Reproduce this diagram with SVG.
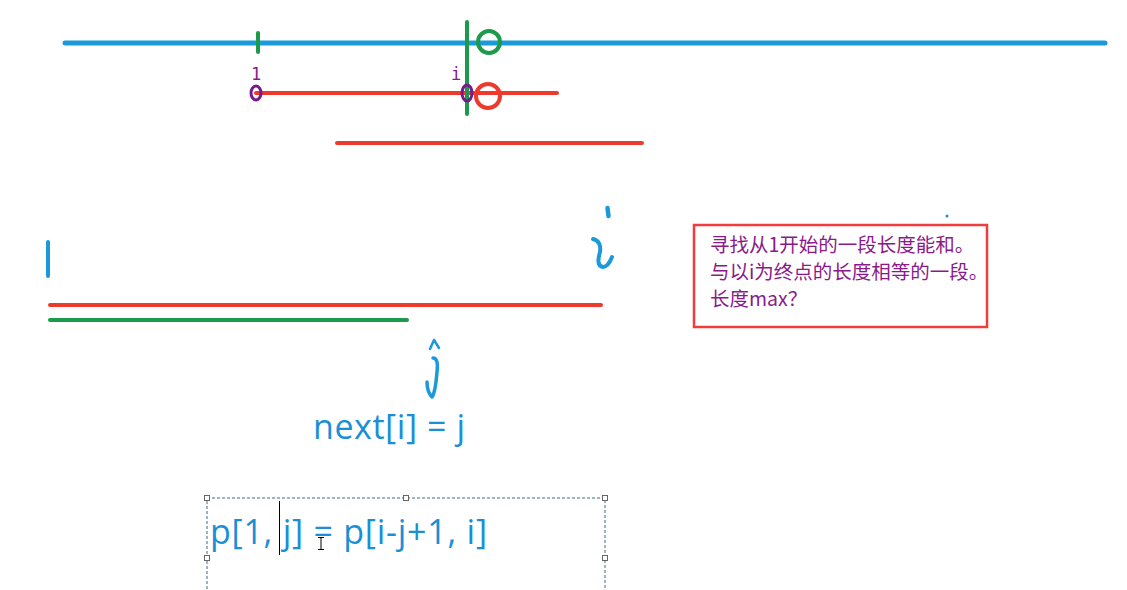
<svg xmlns="http://www.w3.org/2000/svg" width="1127" height="590" viewBox="0 0 1127 590">
<style>
.blue{stroke:#1a9ad8;fill:none;stroke-linecap:round;stroke-linejoin:round}
.red{stroke:#ee3a2c;fill:none;stroke-linecap:round}
.green{stroke:#1a9a4a;fill:none;stroke-linecap:round}
.purple{stroke:#7a1a8a;fill:none}
.lbl{font-family:"DejaVu Sans Mono","Noto Sans",monospace;font-size:17px;fill:#8a1a8a}
.big{font-family:"Open Sans","Noto Sans",sans-serif;font-size:34px;fill:#1a8fd6}
.note{font-family:"Noto Sans CJK SC","Noto Sans",sans-serif;font-size:19.5px;fill:#8a1a8a}
.handle{fill:#fff;stroke:#666;stroke-width:1}
</style>
<rect width="1127" height="590" fill="#fff"/>
<g id="top-lines">
<line class="blue" x1="65" y1="43" x2="1105" y2="43" stroke-width="5"/>
<line class="green" x1="258" y1="33" x2="258" y2="52" stroke-width="4"/>
<line class="red" x1="256" y1="93" x2="557" y2="93" stroke-width="4"/>
<line class="green" x1="467" y1="22" x2="467" y2="114" stroke-width="4"/>
<circle class="green" cx="489" cy="42" r="11" stroke-width="4"/>
<ellipse class="purple" cx="256" cy="93" rx="5" ry="7" stroke-width="3"/>
<ellipse class="purple" cx="467" cy="93" rx="5" ry="8" stroke-width="3"/>
<circle class="red" cx="488" cy="96" r="12" stroke-width="4"/>
<text class="lbl" x="251" y="80">1</text>
<text class="lbl" x="451" y="80">i</text>
<line class="red" x1="337" y1="143" x2="642" y2="143" stroke-width="4"/>
</g>
<g id="mid-lines">
<line class="blue" x1="48" y1="242" x2="48" y2="276" stroke-width="4"/>
<line class="red" x1="50" y1="305" x2="601" y2="305" stroke-width="4"/>
<line class="green" x1="50" y1="320" x2="407" y2="320" stroke-width="4"/>
<path class="blue" d="M607.5 208 L608.5 216" stroke-width="4.5"/>
<path class="blue" d="M593 239 C599 240 601 246 600 252 C598 259 597 266 603 267 C607 267 610 262 612 257" stroke-width="4"/>
<path class="blue" d="M430 349 L434 340 L439 348" stroke-width="2.5"/>
<path class="blue" d="M433 358 C437 358 438 363 437 372 C436 384 435 393 432 397 C429 394 427 388 427 382" stroke-width="3.5"/>
<circle cx="947" cy="216" r="1.5" fill="#1a8fd6"/>
</g>
<g id="note">
<rect x="694" y="225" width="293" height="102" fill="none" stroke="#f03c3c" stroke-width="2.5"/>
<text class="note" x="710" y="252">寻找从1开始的一段长度能和。</text>
<text class="note" x="710" y="279">与以i为终点的长度相等的一段。</text>
<text class="note" x="710" y="306">长度max？</text>
</g>
<g id="formula1">
<text class="big" x="313" y="439" textLength="152" lengthAdjust="spacing">next[i] = j</text>
</g>
<g id="formula2">
<rect x="207" y="498" width="398" height="100" fill="none" stroke="#3a6a8a" stroke-width="1" stroke-dasharray="3,2"/>
<rect class="handle" x="204.5" y="495.5" width="5" height="5"/>
<rect class="handle" x="403.5" y="495.5" width="5" height="5"/>
<rect class="handle" x="602.5" y="495.5" width="5" height="5"/>
<rect class="handle" x="204.5" y="555.5" width="5" height="5"/>
<rect class="handle" x="602.5" y="555.5" width="5" height="5"/>
<text class="big" x="210" y="544" textLength="277" lengthAdjust="spacing">p[1, j] = p[i-j+1, i]</text>
<line x1="279.5" y1="501" x2="279.5" y2="555" stroke="#000" stroke-width="1"/>
<path d="M318 537.5 H324 M321 537.5 V549.5 M318 549.5 H324" stroke="#000" stroke-width="1" fill="none"/>
</g>
</svg>
